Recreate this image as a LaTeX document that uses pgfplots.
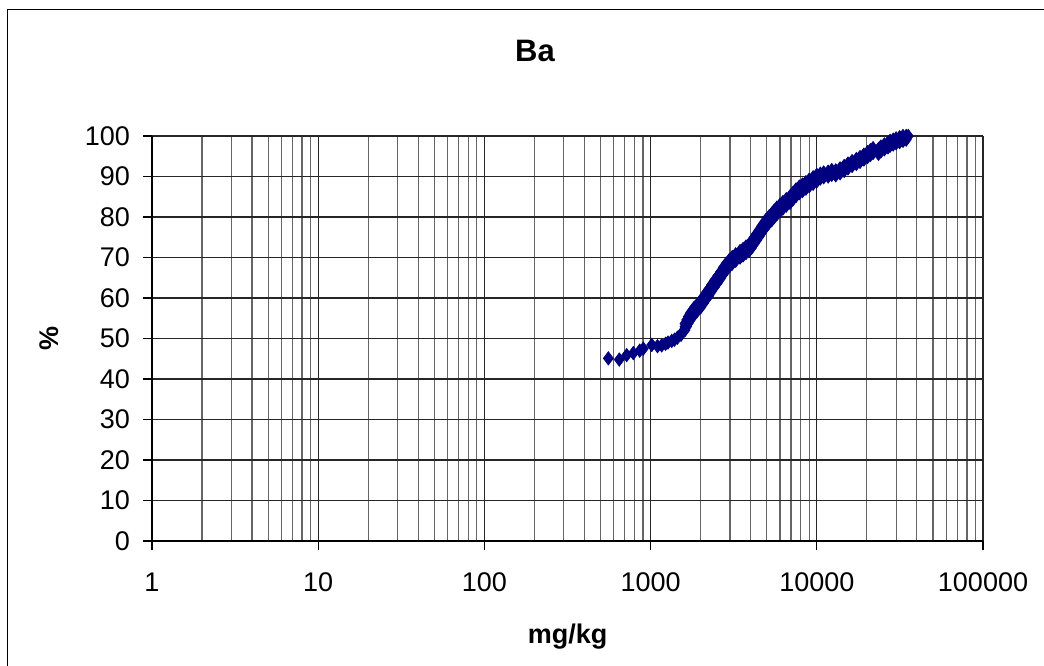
\documentclass[border=0pt]{standalone}
\usepackage{fontspec}
\setmainfont{Liberation Sans}
\usepackage{pgfplots}
\pgfplotsset{compat=1.18}
\definecolor{navy}{RGB}{0,0,128}

\begin{document}
\begin{tikzpicture}
\useasboundingbox (0,0) rectangle (522pt,332.5pt);
% outer chart frame
\draw[line width=0.8pt] (3.75pt,-5pt) -- (3.75pt,327.75pt) -- (530pt,327.75pt);
\node[anchor=base, font=\fontsize{15.5}{18}\selectfont\bfseries] at (267.5pt,301.5pt) {Ba};
\node[anchor=base, font=\fontsize{13.5}{16}\selectfont\bfseries] at (283.75pt,11pt) {mg/kg};
\node[rotate=90, font=\fontsize{13.5}{16}\selectfont\bfseries] at (24.5pt,163.25pt) {\%};
\begin{axis}[
  at={(76pt,62pt)}, anchor=south west,
  scale only axis, width=415.5pt, height=202.5pt,
  xmode=log, xmin=1, xmax=100000, ymin=0, ymax=100,
  xtick={1,10,100,1000,10000,100000},
  xticklabels={1,10,100,1000,10000,100000},
  ytick={0,10,...,100},
  axis x line=bottom, axis y line=left,
  axis line style={-, line width=0.6pt, black},
  grid=both,
  major grid style={line width=0.6pt, black!85},
  minor grid style={line width=0.6pt, black!60},
  tick align=outside,
  major tick length=4.5pt, minor tick length=0pt,
  tick style={line width=0.6pt, black},
  tick label style={font=\fontsize{13.5}{16}\selectfont},
  /pgf/number format/assume math mode=true,
  xticklabel style={yshift=-8pt},
  yticklabel style={xshift=-3pt},
  clip=false,
]
% cumulative percentage of samples against Ba content
\addplot[only marks, mark=diamond*, mark size=3.3pt, color=navy, fill=navy] coordinates {
(557,45.1) (648,44.8) (718,45.9) (787,46.4) (860,47.0) (904,47.5)
(1016,48.4) (1100,48.1) (1166,48.3) (1230,48.7) (1272,49.0) (1340,49.4)
(1392,49.7) (1450,50.2) (1523,50.9) (1570,51.8) (1611,52.9) (1650,53.8)
(1686,54.6) (1730,55.4) (1774,56.0) (1830,56.8) (1900,57.5) (2000,58.5)
(2080,59.5) (2160,60.5) (2240,61.4) (2320,62.4) (2420,63.5) (2520,64.5)
(2630,65.6) (2737,66.7) (2850,67.7) (2980,68.6) (3100,69.3) (3250,70.0)
(3454,70.8) (3600,71.3) (3750,71.9) (3900,72.4) (4050,73.2) (4200,74.2)
(4348,75.1) (4500,76.0) (4650,76.9) (4800,77.7) (4950,78.5) (5150,79.3)
(5350,80.0) (5550,80.8) (5750,81.5) (6000,82.2) (6250,82.9) (6550,83.6)
(6900,84.3) (7200,85.2) (7500,86.0) (7850,86.7) (8200,87.2) (8600,87.8)
(9000,88.4) (9500,89.0) (10000,89.6) (10500,90.1) (11000,90.4) (11700,90.6)
(12300,91.0) (13000,90.9) (13800,91.4) (14600,92.0) (15400,92.6) (16300,93.2)
(17300,93.7) (18200,94.2) (19200,94.8) (20200,95.4) (21000,95.9) (21800,96.4)
(23500,96.2) (24300,96.8) (25500,97.3) (26800,97.8) (27600,98.2) (28800,98.5)
(30000,98.8) (31500,99.1) (33000,99.4) (34500,99.7) (35500,100)
(1611,52.1) (1611,53.7) (1650,53.0) (1650,54.6) (1686,53.8) (1686,55.4)
(1730,54.6) (1730,56.2) (1774,55.2) (1774,56.8) (1830,56.0) (1830,57.6)
(1900,56.7) (1900,58.3) (2000,57.7) (2000,59.3) (2080,58.7) (2080,60.3)
(2160,59.7) (2160,61.3) (2240,60.6) (2240,62.2) (2320,61.6) (2320,63.2)
(2420,62.7) (2420,64.3) (2520,63.7) (2520,65.3) (2630,64.8) (2630,66.4)
(2737,65.9) (2737,67.5) (2850,66.9) (2850,68.5) (2980,67.8) (2980,69.4)
(3100,68.5) (3100,70.1) (3250,69.2) (3250,70.8) (3454,70.0) (3454,71.6)
(3600,70.5) (3600,72.1) (3750,71.1) (3750,72.7) (3900,71.6) (3900,73.2)
(4050,72.4) (4050,74.0) (4200,73.4) (4200,75.0) (4348,74.3) (4348,75.9)
(4500,75.2) (4500,76.8) (4650,76.1) (4650,77.7) (4800,76.9) (4800,78.5)
(4950,77.7) (4950,79.3) (5150,78.5) (5150,80.1) (5350,79.2) (5350,80.8)
(5550,80.0) (5550,81.6) (5750,80.7) (5750,82.3) (6000,81.4) (6000,83.0)
(6250,82.1) (6250,83.7) (6550,82.8) (6550,84.4) (6900,83.5) (6900,85.1)
(7200,84.4) (7200,86.0) (7500,85.2) (7500,86.8) (7850,85.9) (7850,87.5)
(8200,86.4) (8200,88.0) (8600,87.0) (8600,88.6) (9000,87.6) (9000,89.2)
(9500,88.2) (9500,89.8) (10000,88.8) (10000,90.4) (10500,89.5) (10500,90.7)
(11000,89.8) (11000,91.0) (11700,90.0) (11700,91.2) (12300,90.4) (12300,91.6)
(13000,90.3) (13000,91.5) (13800,90.8) (13800,92.0) (14600,91.4) (14600,92.6)
(15400,92.0) (15400,93.2) (16300,92.6) (16300,93.8) (17300,93.1) (17300,94.3)
(18200,93.6) (18200,94.8) (19200,94.2) (19200,95.4) (20200,94.8) (20200,96.0)
(21000,95.3) (21000,96.5) (21800,95.8) (21800,97.0) (23500,95.6) (23500,96.8)
(24300,96.2) (24300,97.4) (25500,96.7) (25500,97.9) (26800,97.2) (26800,98.4)
(27600,97.6) (27600,98.8) (28800,97.9) (28800,99.1) (30000,98.2) (30000,99.4)
(31500,98.5) (31500,99.7) (33000,98.8) (33000,100) (34500,99.1) (34500,100)
};
\end{axis}
\end{tikzpicture}
\end{document}
